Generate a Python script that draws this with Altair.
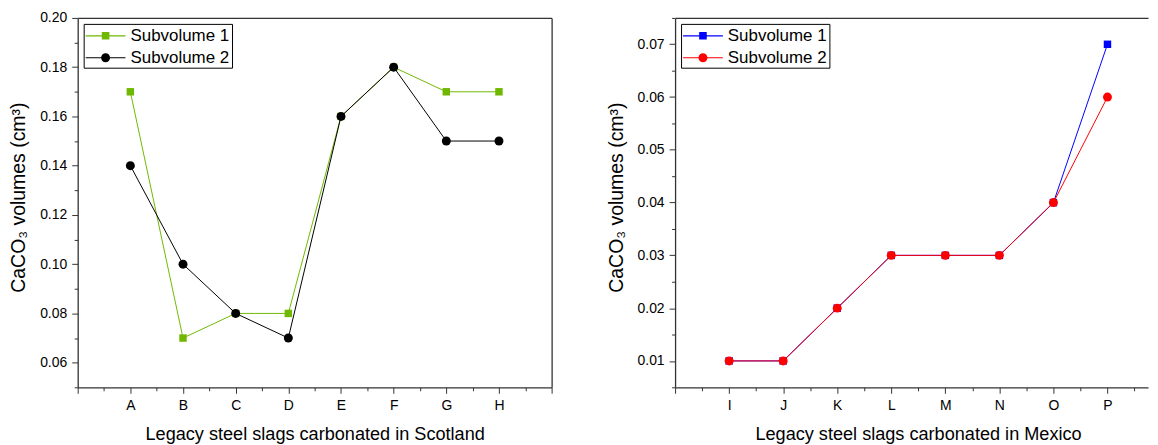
import altair as alt
import pandas as pd

# ---- data ----
series = ["Subvolume 1", "Subvolume 2"]

left_cats = ["A", "B", "C", "D", "E", "F", "G", "H"]
left_s1 = [0.17, 0.07, 0.08, 0.08, 0.16, 0.18, 0.17, 0.17]
left_s2 = [0.14, 0.10, 0.08, 0.07, 0.16, 0.18, 0.15, 0.15]
left_yticks = [0.06, 0.08, 0.10, 0.12, 0.14, 0.16, 0.18, 0.20]
left_yminor = [0.05, 0.07, 0.09, 0.11, 0.13, 0.15, 0.17, 0.19]

right_cats = ["I", "J", "K", "L", "M", "N", "O", "P"]
right_s1 = [0.01, 0.01, 0.02, 0.03, 0.03, 0.03, 0.04, 0.07]
right_s2 = [0.01, 0.01, 0.02, 0.03, 0.03, 0.03, 0.04, 0.06]
right_yticks = [0.01, 0.02, 0.03, 0.04, 0.05, 0.06, 0.07]
right_yminor = [0.005, 0.015, 0.025, 0.035, 0.045, 0.055, 0.065, 0.075]

left_colors = ["#70b800", "#000000"]
right_colors = ["#0000ff", "#ff0000"]

FONT = "Liberation Sans"
AX = "#333333"

# legend symbols: line with marker (custom paths)
LINE = "M-1,-0.06L3,-0.06L3,0.06L-1,0.06Z"
SQ_PATH = LINE + "M0.62,-0.38L1.38,-0.38L1.38,0.38L0.62,0.38Z"
CI_PATH = LINE + "M1.45,0A0.45,0.45 0 1 1 0.55,0A0.45,0.45 0 1 1 1.45,0Z"


def make_df(cats, s1, s2):
    rows = []
    for name, vals in zip(series, [s1, s2]):
        for i, c in enumerate(cats):
            rows.append({"pos": i + 1, "cat": c, "value": vals[i], "series": name})
    return pd.DataFrame(rows)


def panel(cats, s1, s2, colors, xmax, ydom, yticks, yminor, xtitle, title_x, width, right_frame):
    df = make_df(cats, s1, s2)
    base = alt.Chart(df)
    xs = alt.Scale(domain=[0, xmax], nice=False, zero=False)
    ys = alt.Scale(domain=ydom, nice=False, zero=False)
    arr = "[" + ",".join("'%s'" % c for c in cats) + "]"
    expr = "datum.value >= 1 && datum.value <= %d ? %s[datum.value - 1] : ''" % (len(cats), arr)
    x_major = list(range(0, int(xmax) + 1))
    x_minor = [i + 0.5 for i in range(int(xmax + 0.5))]

    major_x = alt.Axis(orient="bottom", values=x_major, labelExpr=expr, tickSize=6,
                       labelPadding=5, title=xtitle, titlePadding=13, titleX=title_x,
                       grid=False, labelFlush=False, labelOverlap=False)
    minor_x = alt.Axis(orient="bottom", values=x_minor, tickSize=3.5, labels=False,
                       domain=False, title=None, grid=False)
    major_y = alt.Axis(orient="left", values=yticks, format=".2f", tickSize=6,
                       labelPadding=5, title="CaCO₃ volumes (cm³)", titlePadding=11,
                       titleFontSize=19.5, titleY=180,
                       grid=False, labelFlush=False, labelOverlap=False)
    minor_y = alt.Axis(orient="left", values=yminor, tickSize=3.5, labels=False,
                       domain=False, title=None, grid=False)
    top_x = alt.Axis(orient="top", ticks=False, labels=False, title=None, domain=True, grid=False)
    right_y = alt.Axis(orient="right", ticks=False, labels=False, title=None, domain=True, grid=False)

    leg = alt.Legend(orient="none", legendX=6, legendY=6, title=None, symbolSize=400,
                     labelFontSize=17, labelFont=FONT, labelOffset=25, labelColor="black",
                     padding=2, rowPadding=4, strokeColor="black", fillColor="white",
                     symbolStrokeWidth=0, symbolOpacity=1, labelLimit=300)

    def sub(name):
        return base.transform_filter(alt.datum.series == name)

    line1 = sub(series[0]).mark_line(strokeWidth=1, color=colors[0]).encode(
        x=alt.X("pos:Q", scale=xs, axis=major_x),
        y=alt.Y("value:Q", scale=ys, axis=major_y),
        order="pos:Q",
    )
    pts1 = sub(series[0]).mark_point(shape="square", filled=True, size=56, opacity=1,
                                     color=colors[0]).encode(
        x=alt.X("pos:Q", scale=xs, axis=top_x),
        y=alt.Y("value:Q", scale=ys, axis=right_y if right_frame else None),
    )
    line2 = sub(series[1]).mark_line(strokeWidth=1, color=colors[1]).encode(
        x=alt.X("pos:Q", scale=xs, axis=None),
        y=alt.Y("value:Q", scale=ys, axis=None),
        order="pos:Q",
    )
    pts2 = sub(series[1]).mark_point(shape="circle", filled=True, size=81, opacity=1,
                                     color=colors[1]).encode(
        x=alt.X("pos:Q", scale=xs, axis=None),
        y=alt.Y("value:Q", scale=ys, axis=None),
    )
    legend_layer = base.transform_calculate(off="datum.value + 10").mark_point(
        filled=True, clip=True).encode(
        x=alt.X("pos:Q", scale=xs, axis=minor_x),
        y=alt.Y("off:Q", scale=ys, axis=minor_y),
        color=alt.Color("series:N", scale=alt.Scale(domain=series, range=colors), legend=leg),
        shape=alt.Shape("series:N", scale=alt.Scale(domain=series, range=[SQ_PATH, CI_PATH]), legend=leg),
    )
    return alt.layer(line1, pts1, line2, pts2, legend_layer).resolve_axis(
        x="independent", y="independent").properties(width=width, height=371)


left = panel(left_cats, left_s1, left_s2, left_colors, 9, [0.05, 0.20], left_yticks, left_yminor,
             "Legacy steel slags carbonated in Scotland", 238, 476, True)
right = panel(right_cats, right_s1, right_s2, right_colors, 8.75, [0.005, 0.075], right_yticks,
              right_yminor, "Legacy steel slags carbonated in Mexico", 244, 475, False)

chart = alt.hconcat(left, right, spacing=53).resolve_scale(
    color="independent", shape="independent"
).properties(
    padding={"left": 0, "top": 2, "right": 2, "bottom": 0}
).configure_view(stroke=None).configure_axis(
    domainColor=AX, domainWidth=1.3, tickColor=AX, tickWidth=1,
    labelFont=FONT, labelFontSize=14, labelColor="black",
    titleFont=FONT, titleFontSize=18.2, titleFontWeight="normal", titleColor="black",
)

chart.save("out.html", embed_options={"renderer": "svg", "actions": False})
